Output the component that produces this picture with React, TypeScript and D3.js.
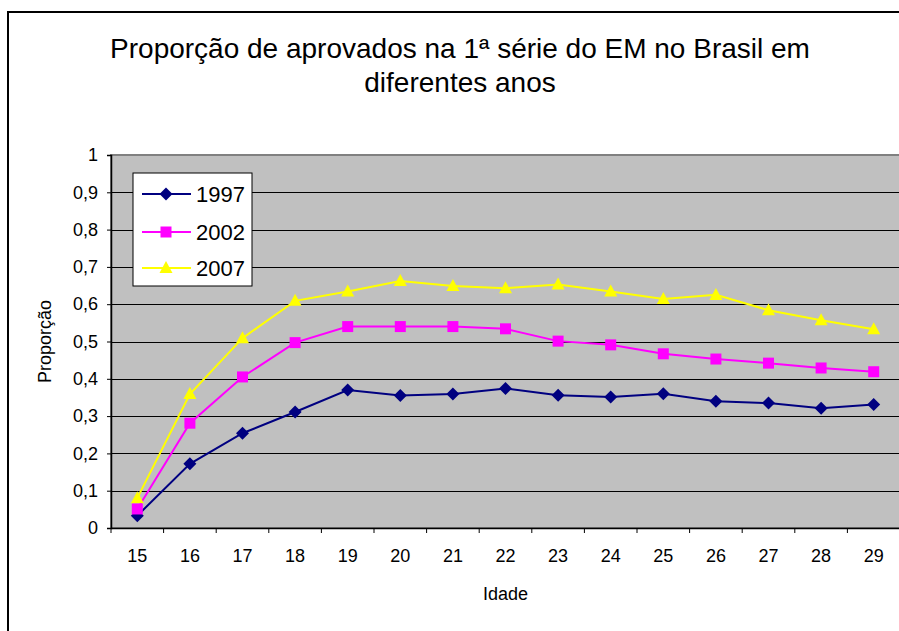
import React, { useRef, useEffect } from 'react';
import * as d3 from 'd3';

// ages on the x axis
const idades = ['15', '16', '17', '18', '19', '20', '21', '22', '23', '24', '25', '26', '27', '28', '29'];

// proportion approved
const anos1997 = [0.033, 0.172, 0.254, 0.311, 0.370, 0.355, 0.359, 0.374, 0.356, 0.351, 0.360, 0.340, 0.335, 0.321, 0.331];
const anos2002 = [0.051, 0.281, 0.405, 0.497, 0.540, 0.540, 0.540, 0.534, 0.501, 0.491, 0.467, 0.453, 0.442, 0.429, 0.419];
const anos2007 = [0.080, 0.359, 0.509, 0.609, 0.634, 0.662, 0.649, 0.643, 0.653, 0.634, 0.614, 0.625, 0.584, 0.557, 0.533];

const yTicks = [0, 0.1, 0.2, 0.3, 0.4, 0.5, 0.6, 0.7, 0.8, 0.9, 1];
const yTickLabels = ['0', '0,1', '0,2', '0,3', '0,4', '0,5', '0,6', '0,7', '0,8', '0,9', '1'];

const series = [
  { name: '1997', values: anos1997, color: '#000080', marker: 'diamond' },
  { name: '2002', values: anos2002, color: '#FF00FF', marker: 'square' },
  { name: '2007', values: anos2007, color: '#FFFF00', marker: 'triangle' },
];

const W = 899;
const H = 631;
const FONT = '"Liberation Sans", Arial, sans-serif';

const App: React.FC = () => {
  const svgRef = useRef<SVGSVGElement | null>(null);

  useEffect(() => {
    const svg = d3.select(svgRef.current);
    svg.selectAll('*').remove();

    const left = 111, right = 900, top = 155, bottom = 528;

    // chart frame
    svg.append('rect')
      .attr('x', 8).attr('y', 12)
      .attr('width', 900).attr('height', 630)
      .attr('fill', '#fff').attr('stroke', '#000').attr('stroke-width', 2);

    // title
    const title = svg.append('text')
      .attr('text-anchor', 'middle')
      .attr('font-family', FONT).attr('font-size', 28).attr('fill', '#000');
    title.append('tspan').attr('x', 460).attr('y', 58)
      .text('Proporção de aprovados na 1ª série do EM no Brasil em');
    title.append('tspan').attr('x', 460).attr('y', 92).text('diferentes anos');

    const x = d3.scaleBand<string>().domain(idades).range([left, right]).padding(0);
    const y = d3.scaleLinear().domain([0, 1]).range([bottom, top]);
    const cx = (c: string) => (x(c) ?? 0) + x.bandwidth() / 2;

    // plot area
    svg.append('rect')
      .attr('x', left).attr('y', top)
      .attr('width', right - left).attr('height', bottom - top)
      .attr('fill', '#C0C0C0').attr('stroke', '#808080').attr('stroke-width', 2);

    // gridlines
    svg.append('g').selectAll('line')
      .data(yTicks.slice(1, -1))
      .join('line')
      .attr('x1', left).attr('x2', right)
      .attr('y1', (d) => Math.round(y(d)) + 0.5)
      .attr('y2', (d) => Math.round(y(d)) + 0.5)
      .attr('stroke', '#000').attr('stroke-width', 1.2);

    // y axis
    const yAxis = svg.append('g')
      .attr('transform', `translate(${left},0)`)
      .call(d3.axisLeft(y).tickValues(yTicks)
        .tickFormat((d, i) => yTickLabels[i]).tickSize(4).tickPadding(9));
    yAxis.select('.domain').attr('stroke', '#000').attr('stroke-width', 1.5);
    yAxis.selectAll('line').attr('stroke', '#000');
    yAxis.selectAll('text').attr('font-family', FONT).attr('font-size', 18).attr('fill', '#000');

    // x axis
    const xAxis = svg.append('g')
      .attr('transform', `translate(0,${bottom})`)
      .call(d3.axisBottom(x).tickSize(0).tickPadding(21));
    xAxis.select('.domain').attr('stroke', '#000').attr('stroke-width', 1.5);
    xAxis.selectAll('text').attr('font-family', FONT).attr('font-size', 18).attr('fill', '#000');
    xAxis.selectAll('line.sep')
      .data(idades)
      .join('line')
      .attr('class', 'sep')
      .attr('x1', (d) => x(d) ?? 0).attr('x2', (d) => x(d) ?? 0)
      .attr('y1', 0).attr('y2', 5)
      .attr('stroke', '#000');

    // axis titles
    svg.append('text')
      .attr('x', (left + right) / 2).attr('y', 600)
      .attr('text-anchor', 'middle')
      .attr('font-family', FONT).attr('font-size', 18)
      .text('Idade');
    svg.append('text')
      .attr('transform', `translate(51,${(top + bottom) / 2}) rotate(-90)`)
      .attr('text-anchor', 'middle')
      .attr('font-family', FONT).attr('font-size', 18)
      .text('Proporção');

    const markerPath = (kind: string) => {
      if (kind === 'diamond') return 'M0,-6.5L6.5,0L0,6.5L-6.5,0Z';
      if (kind === 'square') return 'M-5.5,-5.5H5.5V5.5H-5.5Z';
      return 'M0,-7L6.5,5L-6.5,5Z';
    };

    const line = d3.line<number>()
      .x((d, i) => cx(idades[i]))
      .y((d) => y(d));

    // lines
    series.forEach((s) => {
      svg.append('path')
        .datum(s.values)
        .attr('d', line)
        .attr('fill', 'none')
        .attr('stroke', s.color)
        .attr('stroke-width', 2);
    });

    // markers
    [series[0], series[2], series[1]].forEach((s) => {
      svg.append('g').selectAll('path')
        .data(s.values)
        .join('path')
        .attr('transform', (d, i) => `translate(${cx(idades[i])},${y(d)})`)
        .attr('d', markerPath(s.marker))
        .attr('fill', s.color);
    });

    // legend
    const lg = svg.append('g').attr('transform', 'translate(133,173)');
    lg.append('rect')
      .attr('width', 119).attr('height', 113)
      .attr('fill', '#fff').attr('stroke', '#000').attr('stroke-width', 1);
    const legendY = [21, 59, 95];
    series.forEach((s, i) => {
      const g = lg.append('g').attr('transform', `translate(0,${legendY[i]})`);
      g.append('line')
        .attr('x1', 9).attr('x2', 58)
        .attr('stroke', s.color).attr('stroke-width', 2);
      g.append('path')
        .attr('transform', 'translate(33,0)')
        .attr('d', markerPath(s.marker))
        .attr('fill', s.color);
      g.append('text')
        .attr('x', 63).attr('y', 8)
        .attr('font-family', FONT).attr('font-size', 22)
        .text(s.name);
    });
  }, []);

  return (
    <div style={{ position: 'absolute', left: 0, top: 0 }}>
      <svg ref={svgRef} width={W} height={H} style={{ display: 'block' }} />
    </div>
  );
};

export default App;
